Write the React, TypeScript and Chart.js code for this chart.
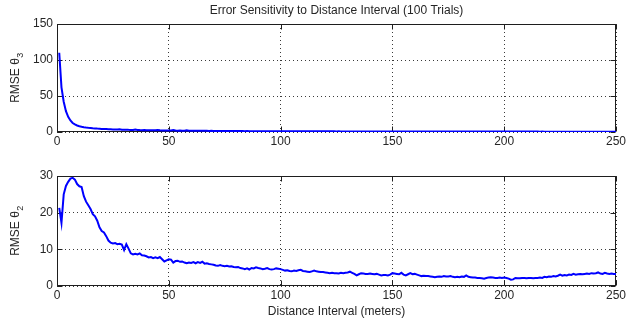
import React, { useEffect, useRef } from "react";
import { Chart, registerables } from "chart.js";

Chart.register(...registerables);

const TITLE = "Error Sensitivity to Distance Interval (100 Trials)";
const X_LABEL = "Distance Interval (meters)";
const X_MIN = 0;
const X_MAX = 250;
const X_STEP = 50;
const TOP_Y_MAX = 150;
const TOP_Y_STEP = 50;
const BOTTOM_Y_MAX = 30;
const BOTTOM_Y_STEP = 10;
const TOP_Y_LABEL = ["RMSE θ", "3"];
const BOTTOM_Y_LABEL = ["RMSE θ", "2"];
const FIRST_DISTANCE = 1;

// RMSE theta3, distance interval 1..250 m
const RMSE_THETA3 = [
  110, 62, 42, 29, 21, 16, 12.5, 10.5, 9, 8,
  7.3, 6.7, 6.2, 5.8, 5.5, 5.2, 5.0, 4.7, 4.5, 4.3,
  4.1, 4.0, 3.8, 3.7, 3.5, 3.4, 3.5, 3.8, 3.2, 3.1,
  3.2, 3.0, 2.9, 2.9, 3.4, 2.9, 2.7, 2.6, 2.7, 2.5,
  2.5, 2.4, 2.5, 2.3, 2.9, 2.4, 2.2, 2.2, 2.1, 2.2,
  2.0, 2.6, 2.0, 1.9, 2.0, 1.9, 1.8, 2.3, 1.8, 1.7,
  1.8, 1.7, 1.7, 1.6, 1.7, 1.6, 1.6, 1.5, 1.6, 1.5,
  1.5, 1.5, 1.4, 1.5, 1.4, 1.4, 1.4, 1.3, 1.4, 1.3,
  1.3, 1.3, 1.3, 1.2, 1.3, 1.2, 1.2, 1.2, 1.2, 1.1,
  1.2, 1.1, 1.1, 1.1, 1.1, 1.1, 1.0, 1.1, 1.0, 1.0,
  1.0, 1.0, 1.0, 0.98, 1.0, 0.96, 0.97, 0.95, 0.96, 0.94,
  0.93, 0.94, 0.92, 0.93, 0.91, 0.92, 0.9, 0.91, 0.89, 0.9,
  0.88, 0.89, 0.87, 0.88, 0.86, 0.87, 0.85, 0.86, 0.84, 0.85,
  0.84, 0.83, 0.84, 0.82, 0.83, 0.81, 0.82, 0.8, 0.81, 0.8,
  0.79, 0.8, 0.78, 0.79, 0.77, 0.78, 0.76, 0.77, 0.76, 0.75,
  0.76, 0.74, 0.75, 0.74, 0.73, 0.74, 0.72, 0.73, 0.72, 0.71,
  0.72, 0.7, 0.71, 0.7, 0.69, 0.7, 0.68, 0.69, 0.68, 0.67,
  0.68, 0.67, 0.66, 0.67, 0.66, 0.65, 0.66, 0.65, 0.64, 0.65,
  0.64, 0.63, 0.64, 0.63, 0.62, 0.63, 0.62, 0.61, 0.62, 0.61,
  0.6, 0.61, 0.6, 0.59, 0.6, 0.59, 0.58, 0.59, 0.58, 0.57,
  0.58, 0.57, 0.56, 0.57, 0.56, 0.55, 0.56, 0.55, 0.55, 0.54,
  0.55, 0.54, 0.53, 0.54, 0.53, 0.52, 0.53, 0.52, 0.52, 0.51,
  0.52, 0.51, 0.5, 0.51, 0.5, 0.5, 0.49, 0.5, 0.49, 0.48,
  0.49, 0.48, 0.48, 0.47, 0.48, 0.47, 0.46, 0.47, 0.46, 0.46,
  0.45, 0.46, 0.45, 0.44, 0.45, 0.44, 0.44, 0.43, 0.44, 0.43,
];

// RMSE theta2, distance interval 1..250 m
const RMSE_THETA2 = [
  21.3, 17.2, 25.0, 27.3, 28.4, 29.3, 29.5, 29.0, 27.8, 27.2,
  27.0, 24.5, 23.0, 22.0, 21.0, 19.6, 19.0, 17.8, 16.0, 15.0,
  14.6, 13.6, 12.4, 11.8, 11.6, 11.7, 11.4, 11.5, 11.3, 9.8,
  11.4, 10.2, 8.9, 8.6, 8.8, 8.6, 8.9, 8.4, 8.3, 8.1,
  7.8, 7.9, 7.6, 7.8, 7.6, 7.9, 7.3, 6.7, 7.0, 7.3,
  7.2, 6.4, 6.8, 6.9, 6.6, 6.7, 6.4, 6.2, 6.4, 6.3,
  6.5, 6.2, 6.5, 6.3, 6.6, 6.1, 6.2, 6.0, 5.9, 5.8,
  5.6, 5.5, 5.7, 5.5, 5.4, 5.5, 5.3, 5.4, 5.2, 5.1,
  5.2, 4.9, 4.8, 4.6, 4.8, 4.5, 4.9, 4.8, 5.1, 4.9,
  4.8, 4.6, 4.7, 4.9, 4.6, 4.5, 4.6, 4.8, 4.7, 4.6,
  4.4, 4.2, 4.3, 4.1, 4.0, 4.2, 4.1, 4.3, 4.4, 4.1,
  4.0, 3.9, 3.8, 4.0, 4.2, 4.0, 3.9, 3.8, 3.8, 3.7,
  3.6, 3.5, 3.6, 3.5, 3.5, 3.4, 3.6, 3.5, 3.6, 3.7,
  3.9, 3.6, 3.3, 2.9, 3.2, 3.5, 3.4, 3.3, 3.3, 3.4,
  3.3, 3.2, 3.3, 3.1, 2.9, 3.0, 3.0, 2.9, 3.1, 3.5,
  3.4, 3.3, 3.2, 3.6, 3.1, 2.9, 3.2, 3.5, 3.2, 3.3,
  3.1, 2.9, 2.7, 2.8, 2.7, 2.7, 2.6, 2.5, 2.4, 2.5,
  2.6, 2.5, 2.7, 2.6, 2.6, 2.7, 2.5, 2.4, 2.5, 2.4,
  2.6, 2.5, 2.9, 2.5, 2.4, 2.3, 2.3, 2.2, 2.2, 2.1,
  2.0, 2.2, 2.3, 2.4, 2.3, 2.2, 2.2, 2.3, 2.2, 2.3,
  2.2, 2.0, 1.7, 1.8, 2.2, 2.1, 2.1, 2.2, 2.2, 2.1,
  2.2, 2.2, 2.1, 2.2, 2.2, 2.3, 2.2, 2.5, 2.4, 2.6,
  2.5, 2.7, 2.6, 2.8, 3.1, 2.8, 3.0, 2.9, 3.1, 3.0,
  3.3, 3.1, 3.2, 3.3, 3.2, 3.3, 3.4, 3.3, 3.5, 3.4,
  3.5, 3.7, 3.4, 3.3, 3.6, 3.4, 3.3, 3.4, 3.3, 3.3,
];

const FONT = "'Liberation Sans', Arial, Helvetica, sans-serif";
const TEXT_COLOR = "#262626";
const LINE_COLOR = "#0000ff";
const WIDTH = 626;

type PanelProps = {
  top: number;
  height: number;
  plotTop: number;
  plotBottom: number;
  values: number[];
  yMax: number;
  yStep: number;
  yLabel: string[];
  title?: string;
  xLabel?: string;
};

function Panel(p: PanelProps) {
  const ref = useRef<HTMLCanvasElement | null>(null);

  useEffect(() => {
    const canvas = ref.current;
    if (!canvas) return;
    const points = p.values.map((v, i) => ({ x: FIRST_DISTANCE + i, y: v }));

    const boxPlugin = {
      id: "axesBox",
      beforeDatasetsDraw(chart: any) {
        const { ctx, chartArea: a, scales } = chart;
        ctx.save();
        ctx.strokeStyle = "#1e1e1e";
        ctx.lineWidth = 1;
        const l = Math.round(a.left) + 0.5;
        const r = Math.round(a.right) - 0.5;
        const t = Math.round(a.top) + 0.5;
        const b = Math.round(a.bottom) - 0.5;
        ctx.strokeRect(l, t, r - l, b - t);
        const TL = 5;
        ctx.beginPath();
        for (const tk of scales.x.ticks) {
          const px = Math.round(scales.x.getPixelForValue(tk.value)) + 0.5;
          ctx.moveTo(px, b);
          ctx.lineTo(px, b - TL);
          ctx.moveTo(px, t);
          ctx.lineTo(px, t + TL);
        }
        for (const tk of scales.y.ticks) {
          const py = Math.round(scales.y.getPixelForValue(tk.value)) + 0.5;
          ctx.moveTo(l, py);
          ctx.lineTo(l + TL, py);
          ctx.moveTo(r, py);
          ctx.lineTo(r - TL, py);
        }
        ctx.stroke();
        ctx.restore();
      },
    };

    const textPlugin = {
      id: "texts",
      afterDraw(chart: any) {
        const { ctx, chartArea: a } = chart;
        ctx.save();
        ctx.fillStyle = TEXT_COLOR;
        if (p.title) {
          ctx.font = `12px ${FONT}`;
          ctx.textAlign = "center";
          ctx.textBaseline = "middle";
          ctx.fillText(p.title, (a.left + a.right) / 2, 11);
        }
        // y label with subscript, rotated
        const cy = (a.top + a.bottom) / 2;
        ctx.translate(16, cy);
        ctx.rotate(-Math.PI / 2);
        ctx.font = `12px ${FONT}`;
        const wm = ctx.measureText(p.yLabel[0]).width;
        ctx.font = `9px ${FONT}`;
        const ws = ctx.measureText(p.yLabel[1]).width;
        const start = -(wm + ws) / 2;
        ctx.textAlign = "left";
        ctx.textBaseline = "middle";
        ctx.font = `12px ${FONT}`;
        ctx.fillText(p.yLabel[0], start, 0);
        ctx.font = `9px ${FONT}`;
        ctx.fillText(p.yLabel[1], start + wm + 0.5, 5);
        ctx.restore();
      },
    };

    const xAxisHeight = p.height - p.plotBottom;

    const chart = new Chart(canvas, {
      type: "line",
      data: {
        datasets: [
          {
            data: points,
            borderColor: LINE_COLOR,
            borderWidth: 2,
            pointRadius: 0,
            tension: 0,
            fill: false,
          },
        ],
      },
      options: {
        animation: false,
        responsive: false,
        devicePixelRatio: 1,
        layout: { padding: { top: p.plotTop, right: WIDTH - 616, left: 0, bottom: 0 } },
        plugins: {
          legend: { display: false },
          tooltip: { enabled: false },
          title: { display: false },
        },
        scales: {
          x: {
            type: "linear",
            min: X_MIN,
            max: X_MAX,
            ticks: {
              stepSize: X_STEP,
              padding: 2,
              color: TEXT_COLOR,
              font: { family: FONT, size: 12 },
              maxRotation: 0,
              autoSkip: false,
            },
            grid: { color: "#3a3a3a", lineWidth: 1, drawTicks: false },
            border: { display: false, dash: [1, 3] },
            title: p.xLabel
              ? {
                  display: true,
                  text: p.xLabel,
                  color: TEXT_COLOR,
                  font: { family: FONT, size: 12 },
                  padding: { top: 0, bottom: 3 },
                }
              : { display: false },
            afterFit: (s: any) => {
              s.height = xAxisHeight;
              s.paddingLeft = 0;
              s.paddingRight = 0;
            },
          } as any,
          y: {
            type: "linear",
            min: 0,
            max: p.yMax,
            ticks: {
              stepSize: p.yStep,
              padding: 4,
              color: TEXT_COLOR,
              font: { family: FONT, size: 12 },
            },
            grid: { color: "#3a3a3a", lineWidth: 1, drawTicks: false },
            border: { display: false, dash: [1, 3] },
            afterFit: (s: any) => {
              s.width = 57;
              s.paddingTop = 0;
              s.paddingBottom = 0;
            },
          } as any,
        },
      },
      plugins: [boxPlugin, textPlugin],
    } as any);

    return () => chart.destroy();
  }, []);

  return (
    <canvas
      ref={ref}
      width={WIDTH}
      height={p.height}
      style={{ position: "absolute", left: 0, top: p.top, width: WIDTH, height: p.height, display: "block" }}
    />
  );
}

export default function App() {
  return (
    <div style={{ position: "absolute", left: 0, top: 0, width: WIDTH, height: 322, background: "#fff" }}>
      <Panel
        top={0}
        height={150}
        plotTop={24}
        plotBottom={132}
        values={RMSE_THETA3}
        yMax={TOP_Y_MAX}
        yStep={TOP_Y_STEP}
        yLabel={TOP_Y_LABEL}
        title={TITLE}
      />
      <Panel
        top={150}
        height={172}
        plotTop={26}
        plotBottom={136}
        values={RMSE_THETA2}
        yMax={BOTTOM_Y_MAX}
        yStep={BOTTOM_Y_STEP}
        yLabel={BOTTOM_Y_LABEL}
        xLabel={X_LABEL}
      />
    </div>
  );
}
